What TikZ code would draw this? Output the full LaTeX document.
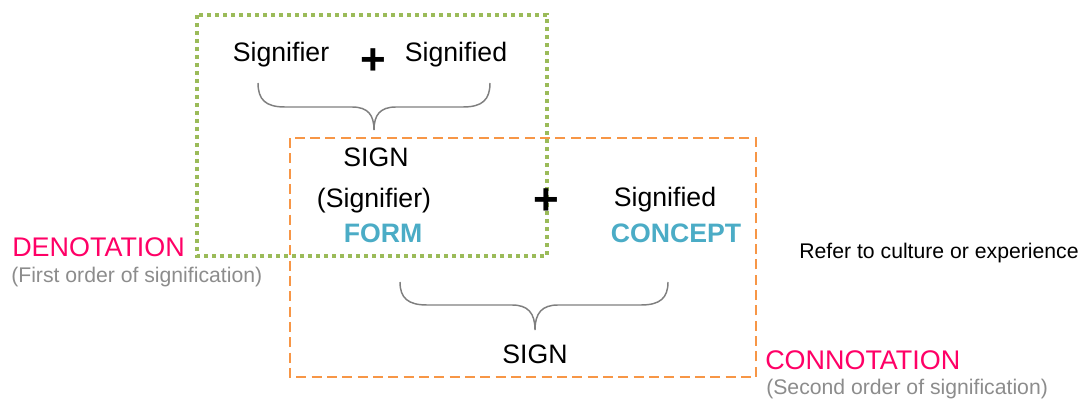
\documentclass[tikz,border=0pt]{standalone}
\usepackage{fontspec}
\setmainfont{Liberation Sans}
\usepackage{xcolor}
\definecolor{signteal}{RGB}{75,172,198}
\definecolor{signpink}{RGB}{255,0,102}
\definecolor{signgreen}{RGB}{155,187,89}
\definecolor{signorange}{RGB}{247,150,70}
\definecolor{signgray}{RGB}{140,140,140}
\definecolor{bracegray}{RGB}{127,127,127}

\begin{document}
\begin{tikzpicture}[x=0.75pt,y=-0.75pt,
    lbl/.style={inner sep=0pt,anchor=base,font=\fontsize{20}{22}\selectfont},
    key/.style={lbl,text=signteal,font=\fontsize{20}{22}\selectfont\bfseries},
    plus/.style={inner sep=0pt,font=\fontsize{33}{36}\selectfont\bfseries},
    order/.style={inner sep=0pt,anchor=base west,text=signpink,font=\fontsize{20.2}{22}\selectfont},
    orderinfo/.style={inner sep=0pt,anchor=base west,text=signgray,font=\fontsize{15.9}{18}\selectfont},
    bracepath/.style={draw=bracegray,line width=1.1pt}]
            \useasboundingbox (0,0) rectangle (1085,402);

            % Second order (connotation)
            \draw[signorange,line width=1.6pt,dash pattern=on 7.5pt off 4pt] (290,138) rectangle (756,377);

            % First order (denotation)
            \draw[signgreen,line width=2.7pt,dash pattern=on 3pt off 3pt] (197,15) rectangle (547,256);

            % Top row
            \node[lbl] (sigtop) at (281,62) {Signifier};
            \node[plus] (plustop) at (373,62) {+};
            \node[lbl] (sigdtop) at (456,62) {Signified};
            \draw[bracepath] (258,83) .. controls (258,100) and (266,107) .. (285,107) -- (352,107)
                .. controls (368,107) and (374,115) .. (374,130)
                .. controls (374,115) and (380,107) .. (396,107) -- (463,107)
                .. controls (482,107) and (490,100) .. (490,83);

            % Middle row
            \node[lbl] (sign) at (376,167) {SIGN};
            \node[lbl] (signifier) at (374,208) {(Signifier)};
            \node[key] (form) at (383,243) {FORM};
            \node[plus] (plusmid) at (546,202) {+};
            \node[lbl] (signified) at (665,207) {Signified};
            \node[key] (concept) at (676,243) {CONCEPT};
            \node[inner sep=0pt,anchor=base,font=\fontsize{15.9}{18}\selectfont] (refer) at (939,259) {Refer to culture or experience};

            % Bottom row
            \draw[bracepath] (400,282) .. controls (400,298) and (408,305) .. (427,305) -- (512,305)
                .. controls (528,305) and (535,313) .. (535,330)
                .. controls (535,313) and (542,305) .. (558,305) -- (641,305)
                .. controls (660,305) and (668,298) .. (668,282);
            \node[lbl] (signbot) at (535,364) {SIGN};

            % Orders of signification
            \node[order] (denot) at (12,257) {DENOTATION};
            \node[orderinfo] (denotinfo) at (11,283) {(First order of signification)};
            \node[order] (connot) at (765,370) {CONNOTATION};
            \node[orderinfo] (connotinfo) at (766,395) {(Second order of signification)};
        \end{tikzpicture}
\end{document}
